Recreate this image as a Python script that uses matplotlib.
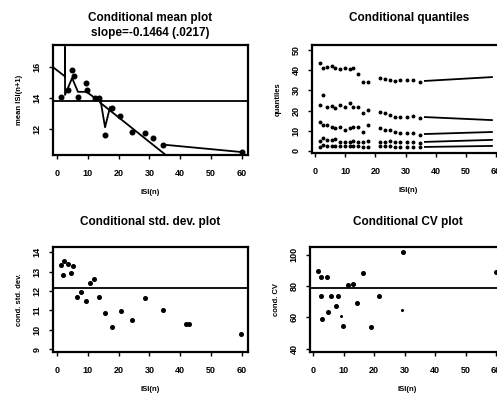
import matplotlib
matplotlib.use("Agg")
import matplotlib.pyplot as plt

plt.rcParams['font.family'] = ['Liberation Sans', 'DejaVu Sans']

# === Conditional mean plot ===
mean_x = [1.3, 3.6, 4.9, 5.5, 6.8, 9.4, 9.7, 12.3, 13.6, 15.6, 17.9, 20.5, 24.4, 28.6, 31.2, 34.4, 60.0]
mean_y = [14.06, 14.5, 15.8, 15.4, 14.06, 15.0, 14.5, 14.0, 14.0, 11.6, 13.35, 12.8, 11.8, 11.7, 11.4, 10.95, 10.5]
smooth_x = [-1.3, 2.6, 2.6, 2.6, 4.9, 6.8, 9.6, 12.3, 14.0, 15.6, 17.2]
smooth_y = [16.0, 15.4, 17.3, 14.2, 15.3, 14.4, 14.4, 14.0, 14.0, 12.1, 13.4]
reg_x = [14.0, 35.0]
reg_y = [13.7, 10.35]
tail_x = [35.7, 59.5]
tail_y = [10.95, 10.5]
mean_ref = 13.8

# === Conditional quantiles ===
q_x = [1.7, 2.6, 4.0, 5.6, 6.6, 8.3, 9.9, 11.6, 12.6, 14.2, 15.9, 17.5, 21.5, 23.2, 24.8, 26.5, 28.1, 30.5, 32.5, 34.8]
q90 = [43.7, 41.1, 41.6, 42.1, 41.1, 40.6, 41.1, 40.6, 41.1, 38.1, 34.2, 34.2, 36.1, 35.6, 35.1, 34.7, 35.1, 35.1, 35.1, 34.2]
q75 = [22.8, 27.7, 21.8, 22.3, 21.3, 22.8, 21.8, 23.8, 21.8, 21.8, 18.8, 20.3, 19.3, 18.8, 17.8, 16.8, 16.8, 16.8, 17.3, 16.3]
q50 = [14.4, 12.9, 12.9, 11.9, 11.4, 11.9, 10.4, 11.4, 11.9, 11.9, 9.4, 12.9, 11.4, 10.4, 10.4, 9.4, 8.9, 8.9, 8.9, 7.9]
q25 = [5.0, 6.4, 5.4, 5.4, 5.9, 4.5, 4.5, 4.5, 5.0, 4.5, 4.5, 5.0, 4.5, 4.5, 5.0, 4.5, 4.5, 4.5, 4.5, 4.0]
q10 = [2.0, 3.0, 2.5, 2.5, 2.5, 2.5, 2.5, 2.5, 2.5, 2.5, 2.0, 2.0, 2.5, 2.5, 2.5, 2.0, 2.0, 2.0, 2.0, 2.0]
q_tail_x = [36.4, 58.6]
q_tails = [[34.7, 36.6], [16.8, 15.3], [8.4, 9.4], [4.5, 5.5], [2.0, 2.5]]

# === Conditional std. dev. ===
sd_x = [1.2, 2.3, 3.7, 5.3, 1.85, 4.5, 10.7, 12.1, 6.6, 7.8, 9.3, 13.7, 15.6, 17.9, 20.7, 24.3, 28.6, 34.3, 41.8, 42.8, 59.6]
sd_y = [13.34, 13.57, 13.4, 13.3, 12.83, 12.91, 12.43, 12.6, 11.7, 11.96, 11.5, 11.7, 10.85, 10.12, 10.98, 10.5, 11.62, 11.02, 10.28, 10.28, 9.76]
sd_ref = 12.15

# === Conditional CV ===
cv_x = [1.75, 2.5, 4.5, 16.5, 29.6, 11.4, 13.0, 2.6, 5.9, 8.3, 21.7, 14.5, 7.4, 4.8, 2.9, 9.9, 19.0, 60.0]
cv_y = [89.6, 85.9, 85.9, 88.1, 101.9, 80.6, 81.3, 73.6, 73.8, 73.8, 73.8, 69.3, 67.2, 63.6, 58.9, 54.4, 53.6, 89.0]
cv_small_x = [9.1, 29.1]
cv_small_y = [61.0, 64.7]
cv_ref = 78.7

W, H = 497, 393
fig = plt.figure(figsize=(W / 100, H / 100), dpi=100)


def add_axes(left, right, top, bottom):
    return fig.add_axes([left / W, 1 - bottom / H, (right - left) / W, (bottom - top) / H])


def style(ax, xlim, ylim, yticks, ylabel):
    ax.set_xlim(xlim)
    ax.set_ylim(ylim)
    ax.set_xticks([0, 10, 20, 30, 40, 50, 60])
    ax.set_yticks(yticks)
    ax.set_yticklabels([str(t) for t in yticks], rotation=90, va='center')
    for lab in ax.get_xticklabels() + ax.get_yticklabels():
        lab.set_fontsize(6.5)
        lab.set_fontweight('bold')
    ax.tick_params(direction='out', length=3, width=1)
    ax.tick_params(axis='x', pad=7)
    ax.tick_params(axis='y', pad=5)
    for sp in ax.spines.values():
        sp.set_linewidth(1.6)
    ax.set_xlabel("ISI(n)", fontsize=5.5, fontweight='bold', labelpad=8)
    ax.set_ylabel(ylabel, fontsize=5.5, fontweight='bold', labelpad=7)


# --- Panel 1 ---
ax1 = add_axes(53, 248, 45, 155)
ax1.plot(smooth_x, smooth_y, color='black', lw=1.3)
ax1.plot(reg_x, reg_y, color='black', lw=1.3)
ax1.plot(tail_x, tail_y, color='black', lw=1.3)
ax1.axhline(mean_ref, color='black', lw=1.3)
ax1.plot(mean_x, mean_y, 'o', color='black', ms=3.3, clip_on=False)
style(ax1, (-1.3, 62.0), (10.3, 17.44), [12, 14, 16], "mean ISI(n+1)")
fig.text(150 / W, 1 - 18 / H, "Conditional mean plot", ha='center', va='center', fontsize=8.5, fontweight='bold')
fig.text(150 / W, 1 - 33 / H, "slope=-0.1464 (.0217)", ha='center', va='center', fontsize=8.5, fontweight='bold')

# --- Panel 2 ---
ax2 = add_axes(312, 504, 45, 153)
for q, tail in zip([q90, q75, q50, q25, q10], q_tails):
    ax2.plot(q_x, q, 'o', color='black', ms=1.8)
    ax2.plot(q_tail_x, tail, color='black', lw=1.3)
style(ax2, (-1.0, 62.6), (-1.0, 52.5), [0, 10, 20, 30, 40, 50], "quantiles")
fig.text(409 / W, 1 - 18 / H, "Conditional quantiles", ha='center', va='center', fontsize=8.5, fontweight='bold')

# --- Panel 3 ---
ax3 = add_axes(53, 248, 247, 352)
ax3.axhline(sd_ref, color='black', lw=1.3)
ax3.plot(sd_x, sd_y, 'o', color='black', ms=2.6)
style(ax3, (-1.3, 62.0), (8.85, 14.27), [9, 10, 11, 12, 13, 14], "cond. std. dev.")
fig.text(150 / W, 1 - 222 / H, "Conditional std. dev. plot", ha='center', va='center', fontsize=8.5, fontweight='bold')

# --- Panel 4 ---
ax4 = add_axes(310, 504, 247, 352)
ax4.axhline(cv_ref, color='black', lw=1.3)
ax4.plot(cv_x, cv_y, 'o', color='black', ms=2.6)
ax4.plot(cv_small_x, cv_small_y, 'o', color='black', ms=1.2)
style(ax4, (-1.0, 62.6), (37.8, 104.9), [40, 60, 80, 100], "cond. CV")
fig.text(408 / W, 1 - 222 / H, "Conditional CV plot", ha='center', va='center', fontsize=8.5, fontweight='bold')

fig.savefig("out.png", dpi=100)
